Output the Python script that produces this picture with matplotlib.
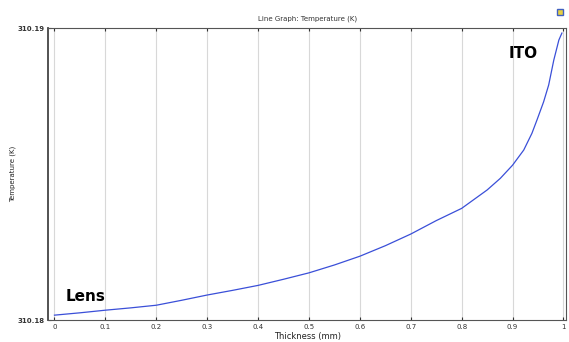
import matplotlib.pyplot as plt

# thickness (mm) and temperature (K)
thickness = [0.0, 0.05, 0.1, 0.15, 0.2, 0.25, 0.3, 0.35, 0.4, 0.45, 0.5, 0.55, 0.6, 0.65,
             0.7, 0.75, 0.8, 0.85, 0.876, 0.9, 0.922, 0.938, 0.948, 0.961, 0.971, 0.981,
             0.991, 0.997]
temperature = [310.18017, 310.18025, 310.18034, 310.18042, 310.18051, 310.18068, 310.18086,
               310.18102, 310.18119, 310.18140, 310.18162, 310.18189, 310.18219, 310.18255,
               310.18295, 310.18341, 310.18383, 310.18446, 310.18486, 310.18531, 310.18583,
               310.18640, 310.18686, 310.18748, 310.18806, 310.18891, 310.18960, 310.18984]
xticks = [0, 0.1, 0.2, 0.3, 0.4, 0.5, 0.6, 0.7, 0.8, 0.9, 1]
xtick_labels = ['0', '0.1', '0.2', '0.3', '0.4', '0.5', '0.6', '0.7', '0.8', '0.9', '1']
yticks = [310.18, 310.19]
ytick_labels = ['310.18', '310.19']

fig = plt.figure(figsize=(5.69, 3.42), dpi=100)
ax = fig.add_axes([0.085, 0.064, 0.9097, 0.853])

ax.plot(thickness, temperature, color='#3a4fd8', lw=0.9)

ax.set_xlim(-0.012, 1.005)
ax.set_ylim(310.18, 310.19)
ax.set_xticks(xticks)
ax.set_xticklabels(xtick_labels)
ax.set_yticks(yticks)
ax.set_yticklabels(ytick_labels, fontweight='bold')
ax.tick_params(axis='both', labelsize=5, colors='#333333', length=2, direction='in', pad=3,
               top=True)
ax.grid(axis='x', color='#d8d8d8', lw=0.8)

for side in ['top', 'right', 'bottom']:
    ax.spines[side].set_color('#555555')
    ax.spines[side].set_linewidth(0.8)
ax.spines['left'].set_color('#444444')
ax.spines['left'].set_linewidth(1.3)

ax.set_title('Line Graph: Temperature (K)', fontsize=5, color='#333333', pad=6)
ax.set_xlabel('Thickness (mm)', fontsize=6, color='#222222', labelpad=1)
ax.set_ylabel('Temperature (K)', fontsize=5, color='#222222')
ax.yaxis.set_label_coords(-0.062, 0.5)

ax.text(0.92, 310.18915, 'ITO', fontsize=11, fontweight='bold', ha='center', va='center')
ax.text(0.062, 310.18082, 'Lens', fontsize=11, fontweight='bold', ha='center', va='center')

# small window icon in the corner
fig.add_artist(plt.Rectangle((0.979, 0.955), 0.011, 0.018, transform=fig.transFigure,
                             facecolor='#e8d040', edgecolor='#4060c0', lw=1))

fig.savefig('out.png', dpi=100)
